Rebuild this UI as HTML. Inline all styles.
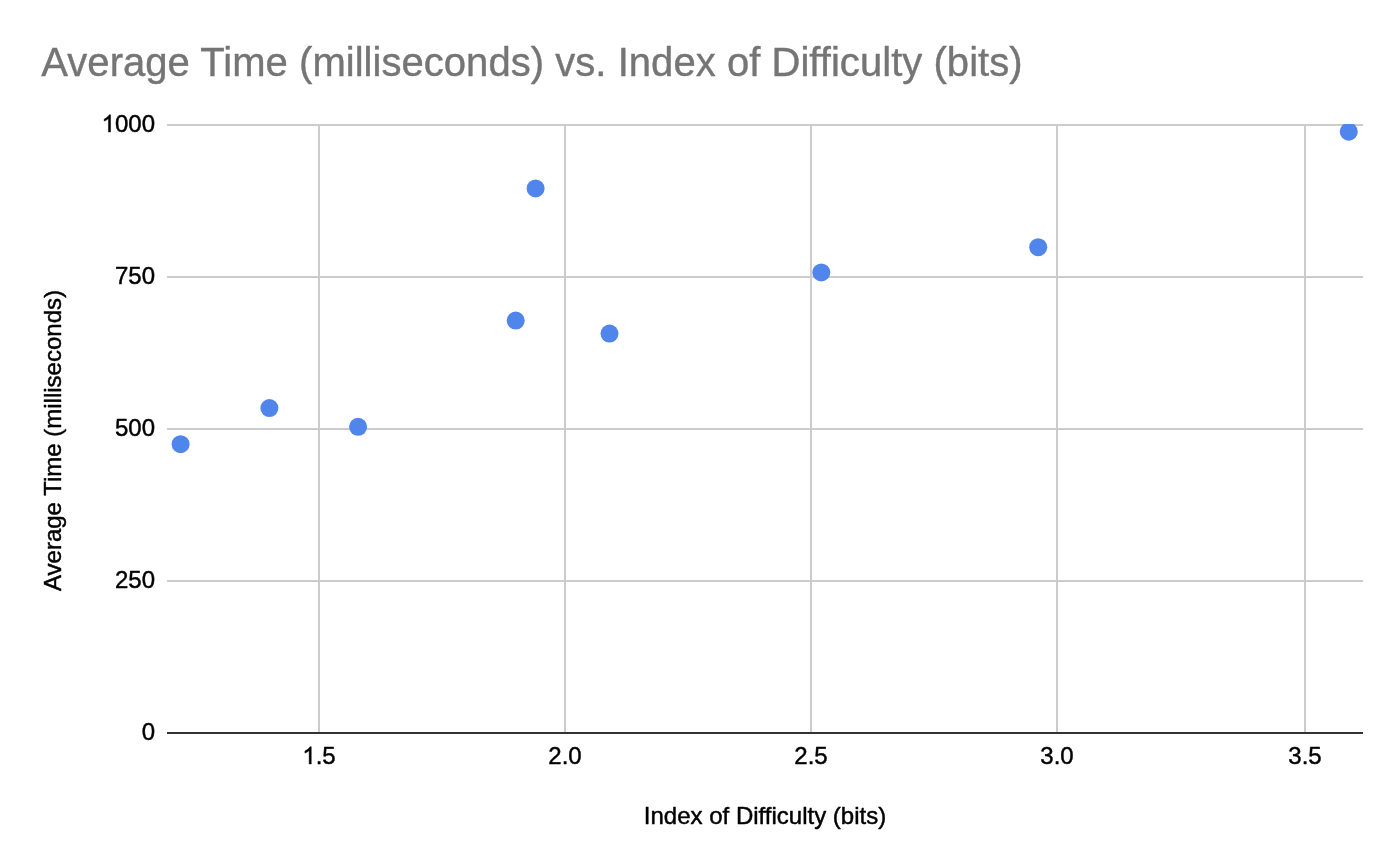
<!DOCTYPE html>
<html>
<head>
<meta charset="utf-8">
<title>Average Time (milliseconds) vs. Index of Difficulty (bits)</title>
<style>
html,body{margin:0;padding:0;background:#fff;}
body{width:1388px;height:860px;overflow:hidden;font-family:"Liberation Sans",sans-serif;}
svg{display:block;will-change:transform;}
text{font-family:"Liberation Sans",sans-serif;}
</style>
</head>
<body>
<svg width="1388" height="860" viewBox="0 0 1388 860">
  <defs>
    <path id="one" d="M763 0H583V1147Q518 1085 412.5 1023T223 930V1104Q374 1175 487 1276T647 1472H763Z"/>
    <clipPath id="plot"><rect x="167" y="124" width="1196" height="610"/></clipPath>
  </defs>
  <rect x="0" y="0" width="1388" height="860" fill="#ffffff"/>
  <!-- title -->
  <text id="title" x="41.3" y="76" font-size="40" fill="#757575" stroke="#757575" stroke-width="0.4" stroke-linejoin="round" textLength="981.3">Average Time (milliseconds) vs. Index of Difficulty (bits)</text>
  <!-- gridlines -->
  <g fill="#cccccc" shape-rendering="crispEdges">
    <rect x="318" y="124" width="2" height="608"/>
    <rect x="564" y="124" width="2" height="608"/>
    <rect x="810" y="124" width="2" height="608"/>
    <rect x="1056" y="124" width="2" height="608"/>
    <rect x="1304" y="124" width="2" height="608"/>
    <rect x="167" y="124" width="1196" height="2"/>
    <rect x="167" y="276" width="1196" height="2"/>
    <rect x="167" y="428" width="1196" height="2"/>
    <rect x="167" y="580" width="1196" height="2"/>
  </g>
  <!-- baseline -->
  <rect x="167" y="732" width="1196" height="2" fill="#333333" shape-rendering="crispEdges"/>
  <!-- points -->
  <g fill="#5085eb" clip-path="url(#plot)">
    <circle cx="180.6" cy="444.2" r="9"/>
    <circle cx="269.4" cy="408.1" r="9"/>
    <circle cx="358.1" cy="426.8" r="9"/>
    <circle cx="515.7" cy="320.6" r="9"/>
    <circle cx="535.6" cy="188.4" r="9"/>
    <circle cx="609.5" cy="333.6" r="9"/>
    <circle cx="821.3" cy="272.4" r="9"/>
    <circle cx="1038.2" cy="247.2" r="9"/>
    <circle cx="1348.75" cy="131.7" r="9"/>
  </g>
  <!-- y labels -->
  <g font-size="24" fill="#000000" text-anchor="end" stroke="#000000" stroke-width="0.45" stroke-linejoin="round">
    <use href="#one" transform="translate(101.609,132) scale(0.01171875,-0.01171875)" stroke-width="38.4"/>
    <text x="155" y="132">000</text>
    <text x="155" y="284">750</text>
    <text x="155" y="436">500</text>
    <text x="155" y="588">250</text>
    <text x="155" y="740">0</text>
  </g>
  <!-- x labels -->
  <g font-size="24" fill="#000000" text-anchor="middle" stroke="#000000" stroke-width="0.45" stroke-linejoin="round">
    <use href="#one" transform="translate(302.318,764) scale(0.01171875,-0.01171875)" stroke-width="38.4"/>
    <text x="315.666" y="764" text-anchor="start">.5</text>
    <text x="565" y="764">2.0</text>
    <text x="811" y="764">2.5</text>
    <text x="1057" y="764">3.0</text>
    <text x="1305" y="764">3.5</text>
  </g>
  <!-- axis titles -->
  <text id="xtitle" x="765" y="824" font-size="24" fill="#000000" text-anchor="middle" stroke="#000000" stroke-width="0.45" stroke-linejoin="round">Index of Difficulty (bits)</text>
  <text id="ytitle" transform="translate(61,440.5) rotate(-90)" font-size="24" fill="#000000" text-anchor="middle" stroke="#000000" stroke-width="0.45" stroke-linejoin="round">Average Time (milliseconds)</text>
</svg>
</body>
</html>
